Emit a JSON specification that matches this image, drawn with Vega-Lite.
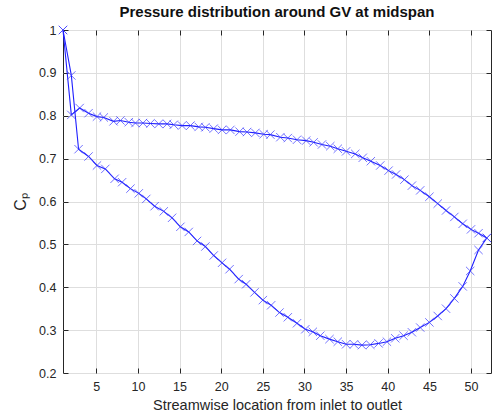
{
  "$schema": "https://vega.github.io/schema/vega-lite/v6.json",
  "autosize": {"type": "none"},
  "padding": {"left": 63, "top": 30, "right": 9, "bottom": 45},
  "width": 428,
  "height": 343,
  "background": "white",
  "title": {"text": "Pressure distribution around GV at midspan", "font": "Liberation Sans", "fontSize": 15, "fontWeight": "bold", "color": "#111111", "offset": 4, "anchor": "middle"},
  "config": {
    "view": {"stroke": "#262626", "strokeWidth": 1},
    "axis": {"labelFont": "Liberation Sans", "titleFont": "Liberation Sans", "labelFontSize": 12.5, "titleFontSize": 14.5, "titleFontWeight": "normal", "labelColor": "#262626", "titleColor": "#262626", "gridColor": "#dedede", "gridWidth": 1, "domain": false, "tickColor": "#262626", "tickSize": -5, "tickWidth": 1}
  },
  "data": {"values": [
    {"s": "upper", "x": 1.0, "cp": 1.0},
    {"s": "upper", "x": 2.0, "cp": 0.802},
    {"s": "upper", "x": 3.0, "cp": 0.818},
    {"s": "upper", "x": 4.07, "cp": 0.806},
    {"s": "upper", "x": 5.08, "cp": 0.798},
    {"s": "upper", "x": 5.9, "cp": 0.796},
    {"s": "upper", "x": 7.07, "cp": 0.787},
    {"s": "upper", "x": 7.9, "cp": 0.789},
    {"s": "upper", "x": 8.9, "cp": 0.785},
    {"s": "upper", "x": 9.7, "cp": 0.783},
    {"s": "upper", "x": 10.6, "cp": 0.783},
    {"s": "upper", "x": 11.5, "cp": 0.782},
    {"s": "upper", "x": 12.5, "cp": 0.781},
    {"s": "upper", "x": 13.5, "cp": 0.781},
    {"s": "upper", "x": 14.3, "cp": 0.779},
    {"s": "upper", "x": 15.3, "cp": 0.777},
    {"s": "upper", "x": 16.3, "cp": 0.777},
    {"s": "upper", "x": 17.3, "cp": 0.774},
    {"s": "upper", "x": 18.1, "cp": 0.773},
    {"s": "upper", "x": 19.1, "cp": 0.770},
    {"s": "upper", "x": 20.1, "cp": 0.767},
    {"s": "upper", "x": 21.1, "cp": 0.767},
    {"s": "upper", "x": 22.2, "cp": 0.763},
    {"s": "upper", "x": 23.1, "cp": 0.762},
    {"s": "upper", "x": 24.1, "cp": 0.760},
    {"s": "upper", "x": 25.1, "cp": 0.757},
    {"s": "upper", "x": 25.9, "cp": 0.756},
    {"s": "upper", "x": 27.1, "cp": 0.750},
    {"s": "upper", "x": 28.0, "cp": 0.748},
    {"s": "upper", "x": 29.1, "cp": 0.744},
    {"s": "upper", "x": 30.2, "cp": 0.742},
    {"s": "upper", "x": 31.1, "cp": 0.738},
    {"s": "upper", "x": 32.1, "cp": 0.733},
    {"s": "upper", "x": 33.1, "cp": 0.729},
    {"s": "upper", "x": 34.0, "cp": 0.723},
    {"s": "upper", "x": 35.0, "cp": 0.717},
    {"s": "upper", "x": 36.1, "cp": 0.711},
    {"s": "upper", "x": 37.0, "cp": 0.702},
    {"s": "upper", "x": 37.97, "cp": 0.694},
    {"s": "upper", "x": 39.1, "cp": 0.684},
    {"s": "upper", "x": 40.1, "cp": 0.672},
    {"s": "upper", "x": 41.0, "cp": 0.663},
    {"s": "upper", "x": 42.0, "cp": 0.651},
    {"s": "upper", "x": 42.9, "cp": 0.637},
    {"s": "upper", "x": 43.9, "cp": 0.626},
    {"s": "upper", "x": 45.0, "cp": 0.611},
    {"s": "upper", "x": 46.0, "cp": 0.595},
    {"s": "upper", "x": 47.0, "cp": 0.579},
    {"s": "upper", "x": 48.0, "cp": 0.564},
    {"s": "upper", "x": 49.0, "cp": 0.548},
    {"s": "upper", "x": 50.0, "cp": 0.535},
    {"s": "upper", "x": 50.9, "cp": 0.526},
    {"s": "upper", "x": 51.9, "cp": 0.515},
    {"s": "lower", "x": 1.0, "cp": 1.0},
    {"s": "lower", "x": 2.0, "cp": 0.894},
    {"s": "lower", "x": 2.87, "cp": 0.722},
    {"s": "lower", "x": 4.07, "cp": 0.705},
    {"s": "lower", "x": 5.08, "cp": 0.684},
    {"s": "lower", "x": 6.08, "cp": 0.676},
    {"s": "lower", "x": 7.2, "cp": 0.653},
    {"s": "lower", "x": 8.1, "cp": 0.645},
    {"s": "lower", "x": 9.1, "cp": 0.630},
    {"s": "lower", "x": 10.1, "cp": 0.619},
    {"s": "lower", "x": 11.0, "cp": 0.606},
    {"s": "lower", "x": 12.0, "cp": 0.589},
    {"s": "lower", "x": 13.1, "cp": 0.577},
    {"s": "lower", "x": 14.1, "cp": 0.562},
    {"s": "lower", "x": 15.1, "cp": 0.541},
    {"s": "lower", "x": 16.1, "cp": 0.529},
    {"s": "lower", "x": 17.1, "cp": 0.508},
    {"s": "lower", "x": 18.1, "cp": 0.495},
    {"s": "lower", "x": 19.1, "cp": 0.474},
    {"s": "lower", "x": 20.1, "cp": 0.457},
    {"s": "lower", "x": 21.0, "cp": 0.442},
    {"s": "lower", "x": 22.1, "cp": 0.419},
    {"s": "lower", "x": 23.0, "cp": 0.407},
    {"s": "lower", "x": 24.0, "cp": 0.388},
    {"s": "lower", "x": 25.0, "cp": 0.370},
    {"s": "lower", "x": 26.0, "cp": 0.358},
    {"s": "lower", "x": 27.0, "cp": 0.341},
    {"s": "lower", "x": 28.0, "cp": 0.330},
    {"s": "lower", "x": 29.1, "cp": 0.316},
    {"s": "lower", "x": 30.1, "cp": 0.302},
    {"s": "lower", "x": 31.0, "cp": 0.296},
    {"s": "lower", "x": 31.9, "cp": 0.287},
    {"s": "lower", "x": 33.0, "cp": 0.279},
    {"s": "lower", "x": 34.0, "cp": 0.273},
    {"s": "lower", "x": 35.0, "cp": 0.267},
    {"s": "lower", "x": 35.95, "cp": 0.267},
    {"s": "lower", "x": 36.9, "cp": 0.265},
    {"s": "lower", "x": 37.9, "cp": 0.266},
    {"s": "lower", "x": 38.9, "cp": 0.269},
    {"s": "lower", "x": 39.9, "cp": 0.273},
    {"s": "lower", "x": 40.9, "cp": 0.281},
    {"s": "lower", "x": 41.9, "cp": 0.287},
    {"s": "lower", "x": 42.9, "cp": 0.295},
    {"s": "lower", "x": 43.9, "cp": 0.306},
    {"s": "lower", "x": 45.0, "cp": 0.318},
    {"s": "lower", "x": 46.0, "cp": 0.333},
    {"s": "lower", "x": 47.0, "cp": 0.350},
    {"s": "lower", "x": 48.0, "cp": 0.374},
    {"s": "lower", "x": 49.0, "cp": 0.402},
    {"s": "lower", "x": 49.9, "cp": 0.438},
    {"s": "lower", "x": 50.9, "cp": 0.487},
    {"s": "lower", "x": 51.9, "cp": 0.515}
  ]},
  "resolve": {"axis": {"x": "independent", "y": "independent"}},
  "layer": [
    {
      "mark": {"type": "line", "color": "#1f1fff", "strokeWidth": 1.1},
      "encoding": {
        "x": {"field": "x", "type": "quantitative", "scale": {"domain": [1, 52.4], "nice": false, "zero": false}, "axis": {"orient": "bottom", "values": [5, 10, 15, 20, 25, 30, 35, 40, 45, 50], "title": "Streamwise location from inlet to outlet", "labelPadding": 12, "titlePadding": 6, "grid": true}},
        "y": {"field": "cp", "type": "quantitative", "scale": {"domain": [0.2, 1], "nice": false, "zero": false}, "axis": {"orient": "left", "values": [0.2, 0.3, 0.4, 0.5, 0.6, 0.7, 0.8, 0.9, 1], "format": ".1~f", "title": "Cₚ", "labelPadding": 12, "titlePadding": 10, "titleFontSize": 16, "grid": true}},
        "detail": {"field": "s"}
      }
    },
    {
      "mark": {"type": "point", "shape": "M-1,-1L1,1M-1,1L1,-1", "filled": false, "color": "#3a3aff", "opacity": 0.7, "size": 70, "strokeWidth": 1},
      "encoding": {
        "x": {"field": "x", "type": "quantitative", "axis": {"orient": "top", "values": [5, 10, 15, 20, 25, 30, 35, 40, 45, 50], "labels": false, "title": null, "grid": false}},
        "y": {"field": "cp", "type": "quantitative", "axis": {"orient": "right", "values": [0.2, 0.3, 0.4, 0.5, 0.6, 0.7, 0.8, 0.9, 1], "labels": false, "title": null, "grid": false}}
      }
    }
  ]
}
